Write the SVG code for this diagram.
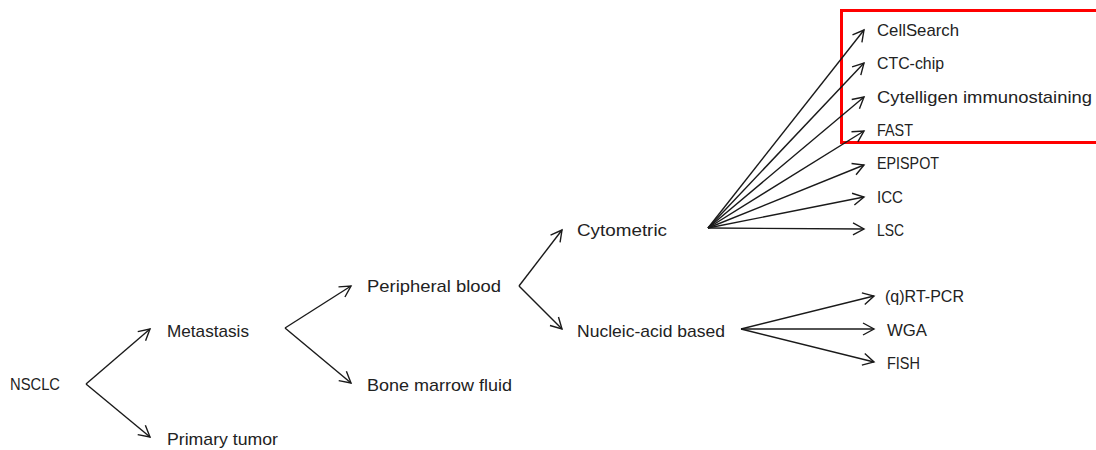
<svg xmlns="http://www.w3.org/2000/svg" width="1096" height="450" viewBox="0 0 1096 450">
<defs>
<marker id="arr" markerUnits="userSpaceOnUse" markerWidth="16" markerHeight="16" refX="12" refY="7" orient="auto" viewBox="0 0 16 14">
<path d="M1,1 L12,7 L1,13" fill="none" stroke="#1a1a1a" stroke-width="1.4"/>
</marker>
<style>
text{font-family:"Liberation Sans",Arial,sans-serif;font-size:17px;fill:#222}
.c line{stroke:#1a1a1a;stroke-width:1.4;marker-end:url(#arr)}
</style>
</defs>
<rect width="1096" height="450" fill="#fff"/>
<g id="highlight"><rect x="841.5" y="10.5" width="280" height="132" fill="none" stroke="#ff0000" stroke-width="3"/></g>
<g class="c" id="connectors">
<line x1="86" y1="384" x2="150" y2="329"/>
<line x1="86" y1="384" x2="150" y2="437"/>
<line x1="285" y1="328" x2="351" y2="286"/>
<line x1="285" y1="328" x2="351" y2="383"/>
<line x1="519" y1="286" x2="562" y2="230"/>
<line x1="519" y1="286" x2="562" y2="329"/>
<line x1="708" y1="228" x2="864" y2="30"/>
<line x1="708" y1="228" x2="864" y2="63"/>
<line x1="708" y1="228" x2="864" y2="97"/>
<line x1="708" y1="228" x2="864" y2="131"/>
<line x1="708" y1="228" x2="864" y2="165"/>
<line x1="708" y1="228" x2="864" y2="197"/>
<line x1="708" y1="228" x2="864" y2="229"/>
<line x1="741" y1="329" x2="874" y2="296"/>
<line x1="741" y1="329" x2="874" y2="329"/>
<line x1="741" y1="329" x2="874" y2="362"/>
</g>
<g id="nsclc"><text x="10" y="390" textLength="50" lengthAdjust="spacingAndGlyphs">NSCLC</text></g>
<g id="metastasis"><text x="167" y="337" textLength="82" lengthAdjust="spacingAndGlyphs">Metastasis</text></g>
<g id="primary-tumor"><text x="167" y="445" textLength="111" lengthAdjust="spacingAndGlyphs">Primary tumor</text></g>
<g id="peripheral-blood"><text x="367" y="292" textLength="134" lengthAdjust="spacingAndGlyphs">Peripheral blood</text></g>
<g id="bone-marrow"><text x="367" y="391" textLength="145" lengthAdjust="spacingAndGlyphs">Bone marrow fluid</text></g>
<g id="cytometric"><text x="577" y="236" textLength="90" lengthAdjust="spacingAndGlyphs">Cytometric</text></g>
<g id="nucleic"><text x="577" y="337" textLength="148" lengthAdjust="spacingAndGlyphs">Nucleic-acid based</text></g>
<g id="cellsearch"><text x="877" y="36" textLength="82" lengthAdjust="spacingAndGlyphs">CellSearch</text></g>
<g id="ctc-chip"><text x="877" y="69" textLength="67" lengthAdjust="spacingAndGlyphs">CTC-chip</text></g>
<g id="cytelligen"><text x="877" y="103" textLength="215" lengthAdjust="spacingAndGlyphs">Cytelligen immunostaining</text></g>
<g id="fast"><text x="877" y="136" textLength="36" lengthAdjust="spacingAndGlyphs">FAST</text></g>
<g id="epispot"><text x="877" y="169" textLength="62" lengthAdjust="spacingAndGlyphs">EPISPOT</text></g>
<g id="icc"><text x="877" y="203" textLength="26" lengthAdjust="spacingAndGlyphs">ICC</text></g>
<g id="lsc"><text x="877" y="236" textLength="27" lengthAdjust="spacingAndGlyphs">LSC</text></g>
<g id="rt-pcr"><text x="885" y="302" textLength="79" lengthAdjust="spacingAndGlyphs">(q)RT-PCR</text></g>
<g id="wga"><text x="887" y="336" textLength="40" lengthAdjust="spacingAndGlyphs">WGA</text></g>
<g id="fish"><text x="887" y="369" textLength="33" lengthAdjust="spacingAndGlyphs">FISH</text></g>
</svg>
